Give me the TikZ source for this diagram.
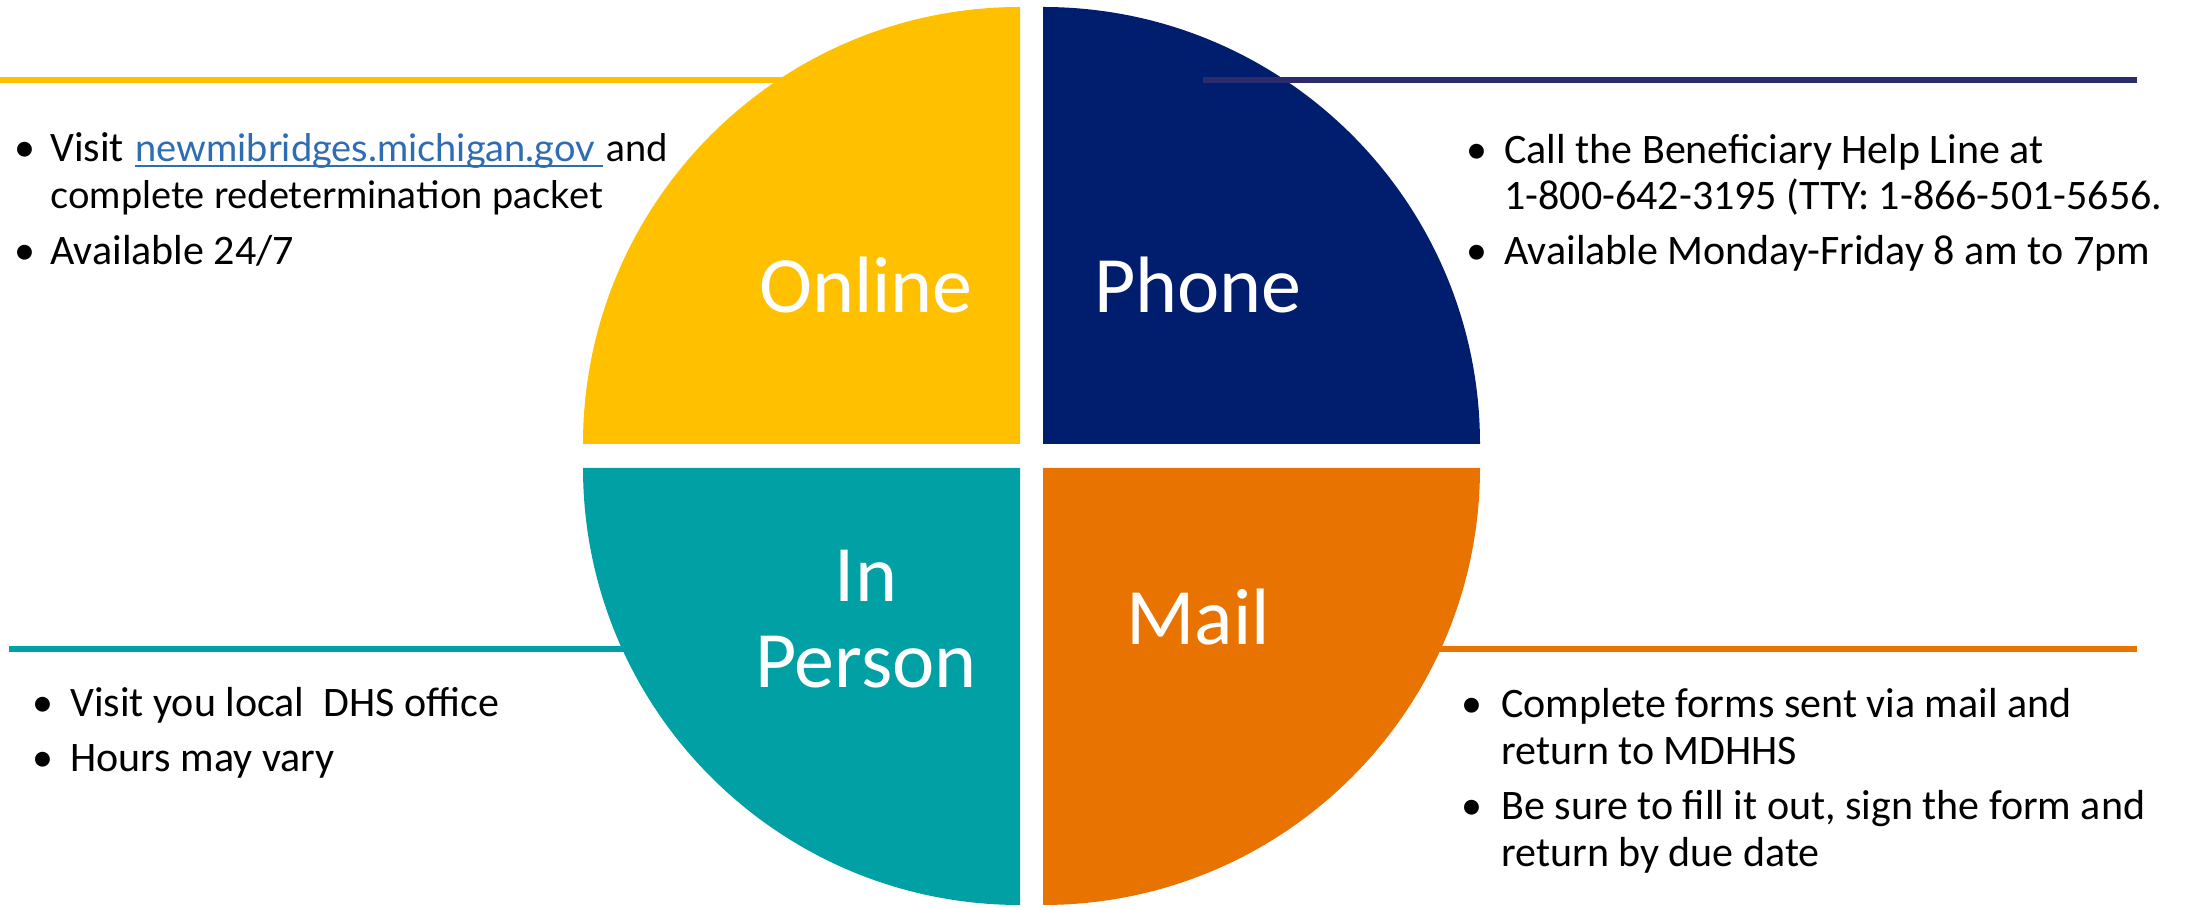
\documentclass[tikz,border=0pt]{standalone}
\usepackage{fontspec}
\setmainfont{Carlito}
\newfontfamily\linkfont{Lato}
\definecolor{qyellow}{HTML}{FFC000}
\definecolor{qnavy}{HTML}{011E6E}
\definecolor{qnavyline}{HTML}{2C2B6C}
\definecolor{qteal}{HTML}{00A0A4}
\definecolor{qorange}{HTML}{E97300}
\definecolor{qlink}{HTML}{2E6DB4}
\begin{document}
\begin{tikzpicture}[x=0.5pt,y=0.5pt,
  rule/.style={line width=2.6pt},
  body/.style={inner sep=0pt,anchor=base west,font=\fontsize{21}{23}\selectfont},
  linktext/.style={inner sep=0pt,anchor=base west,font=\linkfont\fontsize{19}{22}\selectfont},
  dot/.style={inner sep=0pt,anchor=base,font=\fontsize{21}{23}\selectfont},
  biglabel/.style={inner sep=0pt,anchor=base,text=white,font=\fontsize{40}{44}\selectfont}]
\useasboundingbox[fill=white] (0,0) rectangle (2190,908);

% rules that run behind the quadrants
\coordinate (yl0) at (0,828);    \coordinate (yl1) at (800,828);
\coordinate (tl0) at (9,259);    \coordinate (tl1) at (640,259);
\coordinate (ol0) at (1420,259); \coordinate (ol1) at (2137,259);
\draw[rule,qyellow] (yl0) -- (yl1);
\draw[rule,qteal] (tl0) -- (tl1);
\draw[rule,qorange] (ol0) -- (ol1);

% four quarter discs
\fill[qyellow] (1020,464) -- (583,464) arc[start angle=180,end angle=90,radius=437] -- cycle;
\fill[qnavy]   (1043,464) -- (1043,901) arc[start angle=90,end angle=0,radius=437] -- cycle;
\fill[qteal]   (1020,440) -- (583,440) arc[start angle=180,end angle=270,radius=437] -- cycle;
\fill[qorange] (1043,440) -- (1043,3) arc[start angle=270,end angle=360,radius=437] -- cycle;

% rule drawn over the navy quadrant
\coordinate (nl0) at (1203,828); \coordinate (nl1) at (2137,828);
\draw[rule,qnavyline] (nl0) -- (nl1);

% quadrant titles
\node[biglabel] (online) at (866,595) {Online};
\node[biglabel] (phone)  at (1198,595) {Phone};
\node[biglabel] (in)     at (866,306) {In};
\node[biglabel] (person) at (866,220) {Person};
\node[biglabel] (mail)   at (1198,263) {Mail};

% Online
\node[dot] (ob1) at (25,746) {•};
\node[body] (o1a) at (50,746) {Visit};
\node[linktext,text=qlink] (olink) at (135,746) {newmibridges.michigan.gov};
\coordinate (ulend) at (603,742);
\draw[qlink,line width=0.9pt] ([yshift=-2pt]olink.base west) -- (ulend);
\node[linktext] (o1b) at (606,746) {and};
\node[linktext] (o1c) at (50,699) {complete redetermination packet};
\node[dot] (ob2) at (25,643) {•};
\node[body] (o2) at (50,643) {Available 24/7};

% Phone
\node[dot] (pb1) at (1477,744) {•};
\node[body] (p1a) at (1504,744) {Call the Beneficiary Help Line at};
\node[body] (p1b) at (1504,698) {1-800-642-3195 (TTY: 1-866-501-5656.};
\node[dot] (pb2) at (1477,643) {•};
\node[body] (p2) at (1504,643) {Available Monday-Friday 8 am to 7pm};

% In Person
\node[dot] (ib1) at (43,191) {•};
\node[body] (i1) at (70,191) {Visit you local\ \ DHS office};
\node[dot] (ib2) at (43,136) {•};
\node[body] (i2) at (70,136) {Hours may vary};

% Mail
\node[dot] (mb1) at (1472,190) {•};
\node[body] (m1a) at (1501,190) {Complete forms sent via mail and};
\node[body] (m1b) at (1501,143) {return to MDHHS};
\node[dot] (mb2) at (1472,88) {•};
\node[body] (m2a) at (1501,88) {Be sure to fill it out, sign the form and};
\node[body] (m2b) at (1501,41) {return by due date};
\end{tikzpicture}
\end{document}
